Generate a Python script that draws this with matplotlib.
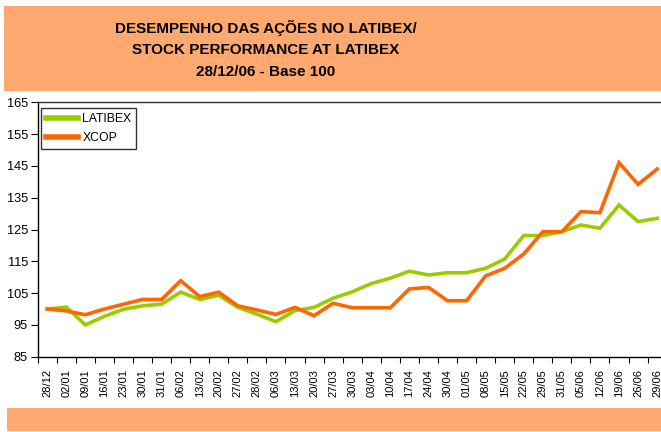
import matplotlib
matplotlib.use("Agg")
import matplotlib.pyplot as plt
from matplotlib.patches import Rectangle
from matplotlib import font_manager

categories = ["28/12", "02/01", "09/01", "16/01", "23/01", "30/01", "31/01", "06/02",
              "13/02", "20/02", "27/02", "28/02", "06/03", "13/03", "20/03", "27/03",
              "30/03", "03/04", "10/04", "17/04", "24/04", "30/04", "01/05", "08/05",
              "15/05", "22/05", "29/05", "31/05", "05/06", "12/06", "19/06", "26/06", "29/06"]
latibex = [100.0, 100.6, 95.0, 97.7, 99.9, 101.0, 101.5, 105.3,
           103.0, 104.3, 100.5, 98.4, 96.0, 99.5, 100.5, 103.4,
           105.4, 108.0, 109.7, 111.9, 110.7, 111.4, 111.4, 112.8,
           115.7, 123.1, 123.1, 124.3, 126.4, 125.4, 132.7, 127.5, 128.5]
xcop = [100.0, 99.4, 98.2, 100.0, 101.5, 103.0, 103.0, 108.9,
        103.9, 105.3, 101.0, 99.7, 98.3, 100.5, 97.9, 101.8,
        100.4, 100.4, 100.4, 106.3, 106.8, 102.6, 102.6, 110.4,
        112.8, 117.3, 124.3, 124.3, 130.6, 130.3, 146.0, 139.2, 144.0]
yticks = [85, 95, 105, 115, 125, 135, 145, 155, 165]
title_lines = ["DESEMPENHO DAS AÇÕES NO LATIBEX/", "STOCK PERFORMANCE AT LATIBEX", "28/12/06 - Base 100"]

W, H = 661, 432
fig = plt.figure(figsize=(W / 100, H / 100), dpi=100)
plt.rcParams['font.family'] = ['Liberation Sans', 'DejaVu Sans']

names = {f.name for f in font_manager.fontManager.ttflist}
if 'Liberation Sans Narrow' in names:
    title_family = ['Liberation Sans Narrow', 'Liberation Sans']
    title_size = 12
else:
    title_family = ['Liberation Sans', 'DejaVu Sans']
    title_size = 11

band = "#FFA870"
fig.patches.append(Rectangle((4 / W, 1 - 90.7 / H), (W - 4) / W, 84.7 / H,
                             transform=fig.transFigure, facecolor=band, edgecolor='none', zorder=0))
fig.patches.append(Rectangle((7 / W, 1 - 431 / H), (W - 7) / W, 23 / H,
                             transform=fig.transFigure, facecolor=band, edgecolor='none', zorder=0))

for t, yp in zip(title_lines, [28, 50, 72]):
    fig.text(266 / W, 1 - yp / H, t, ha='center', va='center', fontsize=title_size,
             fontweight='bold', color='black', family=title_family)

left = 37.7 / W
bottom = 1 - 356.7 / H
height = (356.7 - 102.3) / H
width = 33 * 19.06 / W
ax = fig.add_axes([left, bottom, width, height])

x = list(range(len(categories)))
ax.plot(x, latibex, color="#99CC00", lw=2.6, label="LATIBEX", solid_joinstyle='miter')
ax.plot(x, xcop, color="#FF6600", lw=2.6, label="XCOP", solid_joinstyle='miter')

ax.set_xlim(-0.5, len(categories) - 0.5)
ax.set_ylim(85, 165)
ax.set_yticks(yticks)
ax.set_yticklabels([str(v) for v in yticks], fontsize=9.2)
ax.set_xticks(x)
ax.set_xticklabels(categories, rotation=90, fontsize=8)
ax.set_xticks([i - 0.5 for i in range(len(categories) + 1)], minor=True)
ax.tick_params(axis='x', which='major', length=0, pad=9)
ax.tick_params(axis='x', which='minor', length=4, width=0.8, direction='out')
ax.tick_params(axis='y', length=5, width=0.8, direction='out', pad=2)
for s in ax.spines.values():
    s.set_linewidth(1.0)
    s.set_color('black')
ax.spines['top'].set_color('#333333')

leg = ax.legend(loc='upper left', bbox_to_anchor=(0.005, 0.978), borderaxespad=0,
                fontsize=8.8, frameon=True, fancybox=False, handlelength=2.6,
                handletextpad=0.4, borderpad=0.4, labelspacing=0.6)
leg.get_frame().set_edgecolor('black')
leg.get_frame().set_linewidth(1.0)
for l in leg.get_lines():
    l.set_linewidth(4)

fig.savefig("out.png", dpi=100)
